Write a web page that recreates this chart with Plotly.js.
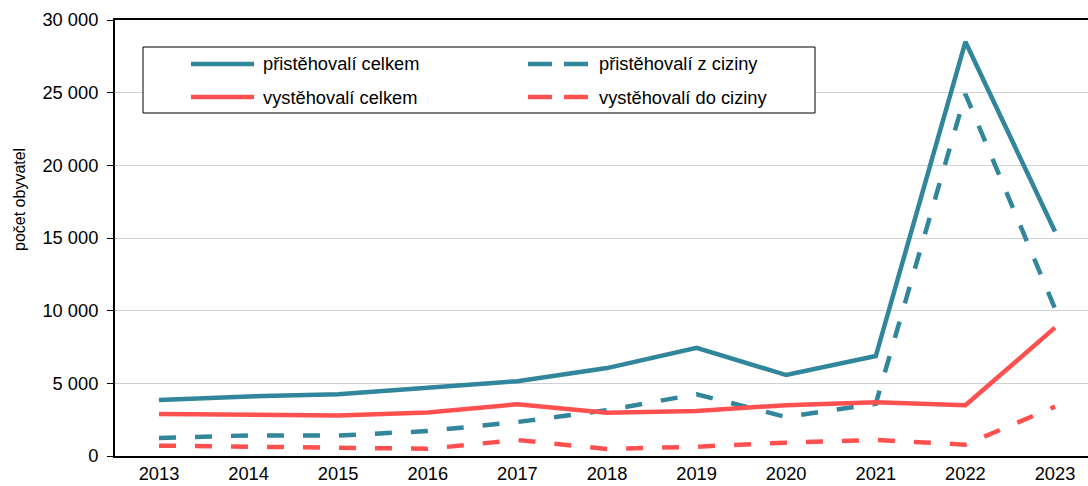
<!DOCTYPE html>
<html>
<head>
<meta charset="utf-8">
<script src="https://cdn.plot.ly/plotly-3.0.1.min.js"></script>
<style>html,body{margin:0;padding:0;background:#fff;}#chart{width:1088px;height:486px;}</style>
</head>
<body>
<div id="chart"></div>
<script>
const years = [2013, 2014, 2015, 2016, 2017, 2018, 2019, 2020, 2021, 2022, 2023];
const seriesNames = ["přistěhovalí celkem", "přistěhovalí z ciziny", "vystěhovalí celkem", "vystěhovalí do ciziny"];
const prisCelkem = [3850, 4100, 4250, 4700, 5150, 6050, 7450, 5570, 6880, 28500, 15450];
const prisCizina = [1240, 1420, 1400, 1720, 2340, 3150, 4250, 2680, 3600, 24900, 10150];
const vystCelkem = [2890, 2820, 2780, 3000, 3560, 2980, 3100, 3500, 3700, 3490, 8830];
const vystCizina = [710, 640, 590, 500, 1100, 480, 640, 920, 1100, 780, 3400];
const yTicks = [0, 5000, 10000, 15000, 20000, 25000, 30000];
const yTickText = ["0", "5 000", "10 000", "15 000", "20 000", "25 000", "30 000"];

const TEAL = "#31869B";
const RED = "#FF5050";
const FONT = "Liberation Sans, Arial, sans-serif";
const DASH = "17px,19px";
const FS = 18.3;

const W = 1088, H = 486;
const M = {l: 115, r: 0, t: 20, b: 30};
const pw = W - M.l - M.r, ph = H - M.t - M.b;
const px = x => (x - M.l) / pw;
const py = y => (H - M.b - y) / ph;

const styles = [
  {color: TEAL, dash: "solid"},
  {color: TEAL, dash: DASH},
  {color: RED, dash: "solid"},
  {color: RED, dash: DASH}
];
const values = [prisCelkem, prisCizina, vystCelkem, vystCizina];

const traces = values.map((v, i) => ({
  x: years, y: v, name: seriesNames[i], type: "scatter", mode: "lines",
  line: {color: styles[i].color, width: 4.5, dash: styles[i].dash},
  showlegend: false, hoverinfo: "skip"
}));

// custom legend (box, samples, labels)
const shapes = [
  {type: "rect", xref: "paper", yref: "paper", x0: px(143), x1: px(815), y0: py(47), y1: py(113),
   line: {color: "#000", width: 1}, fillcolor: "#fff", layer: "above"}
];
const annotations = [];
const legPos = [
  {sx: 191, tx: 261, y: 64},
  {sx: 528, tx: 597, y: 64},
  {sx: 191, tx: 261, y: 97},
  {sx: 528, tx: 597, y: 97}
];
legPos.forEach((p, i) => {
  const st = styles[i];
  if (st.dash === "solid") {
    shapes.push({type: "line", xref: "paper", yref: "paper", x0: px(p.sx), x1: px(p.sx + 63), y0: py(p.y), y1: py(p.y),
      line: {color: st.color, width: 4.5}, layer: "above"});
  } else {
    shapes.push({type: "line", xref: "paper", yref: "paper", x0: px(p.sx), x1: px(p.sx + 24), y0: py(p.y), y1: py(p.y),
      line: {color: st.color, width: 4.5}, layer: "above"});
    shapes.push({type: "line", xref: "paper", yref: "paper", x0: px(p.sx + 36), x1: px(p.sx + 60), y0: py(p.y), y1: py(p.y),
      line: {color: st.color, width: 4.5}, layer: "above"});
  }
  annotations.push({xref: "paper", yref: "paper", x: px(p.tx), y: py(p.y), xanchor: "left", yanchor: "middle",
    text: seriesNames[i], showarrow: false, font: {family: FONT, size: FS, color: "#000"}});
});
annotations.push({xref: "paper", yref: "paper", x: px(19), y: py(200), xanchor: "center", yanchor: "middle",
  text: "počet obyvatel", textangle: -90, showarrow: false, font: {family: FONT, size: 16, color: "#000"}});

const layout = {
  width: W, height: H,
  margin: M,
  paper_bgcolor: "#fff", plot_bgcolor: "#fff",
  font: {family: FONT, size: FS, color: "#000"},
  showlegend: false,
  xaxis: {
    range: [2013 - 44 / 89.6, 2023 + 33 / 89.6],
    tickvals: years, ticktext: years.map(String),
    showgrid: false, zeroline: false,
    showline: true, linecolor: "#000", linewidth: 2, mirror: true,
    ticks: "", tickfont: {family: FONT, size: FS, color: "#000"}
  },
  yaxis: {
    range: [0, 30000],
    tickvals: yTicks, ticktext: yTickText,
    showgrid: true, gridcolor: "#d0d0d0", gridwidth: 1,
    zeroline: false,
    showline: true, linecolor: "#000", linewidth: 2,
    ticks: "outside", ticklen: 6, tickcolor: "#000", tickwidth: 1,
    ticklabelstandoff: 5,
    tickfont: {family: FONT, size: FS, color: "#000"}
  },
  shapes: shapes,
  annotations: annotations
};

Plotly.newPlot("chart", traces, layout, {displayModeBar: false, staticPlot: true});
</script>
</body>
</html>
